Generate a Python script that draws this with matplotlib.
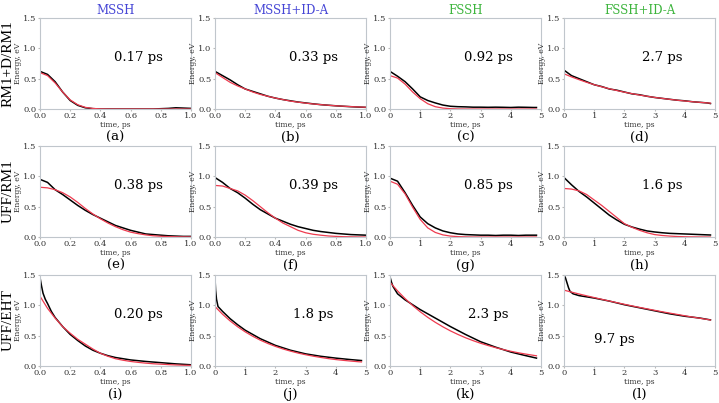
import matplotlib
matplotlib.use('Agg')
import matplotlib.pyplot as plt

# shared time grids (ps)
t1 = [0.0, 0.05, 0.1, 0.15, 0.2, 0.25, 0.3, 0.35, 0.4, 0.45, 0.5,
      0.55, 0.6, 0.65, 0.7, 0.75, 0.8, 0.85, 0.9, 0.95, 1.0]
t5 = [0.0, 0.25, 0.5, 0.75, 1.0, 1.25, 1.5, 1.75, 2.0, 2.25, 2.5,
      2.75, 3.0, 3.25, 3.5, 3.75, 4.0, 4.25, 4.5, 4.75, 4.85]

# row 1: RM1+D/RM1
a_md = [0.62, 0.57, 0.45, 0.28, 0.14, 0.06, 0.02, 0.006, 0.0, 0.0, 0.0,
        0.0, 0.0, 0.0, 0.0, 0.0, 0.005, 0.01, 0.02, 0.015, 0.01]
a_fit = [0.60, 0.55, 0.43, 0.28, 0.15, 0.07, 0.027, 0.009, 0.002, 0.0, 0.0,
         0.0, 0.0, 0.0, 0.0, 0.0, 0.0, 0.0, 0.0, 0.0, 0.0]
b_md = [0.62, 0.55, 0.48, 0.40, 0.33, 0.29, 0.25, 0.21, 0.18, 0.155, 0.135,
        0.115, 0.10, 0.085, 0.072, 0.062, 0.053, 0.045, 0.038, 0.032, 0.027]
b_fit = [0.60, 0.52, 0.44, 0.38, 0.33, 0.28, 0.24, 0.21, 0.18, 0.155, 0.13,
         0.113, 0.097, 0.083, 0.072, 0.062, 0.053, 0.046, 0.039, 0.034, 0.029]
c_md = [0.62, 0.54, 0.45, 0.33, 0.20, 0.14, 0.10, 0.065, 0.045, 0.038, 0.035,
        0.03, 0.03, 0.028, 0.03, 0.028, 0.025, 0.03, 0.028, 0.025, 0.025]
c_fit = [0.55, 0.51, 0.41, 0.28, 0.17, 0.087, 0.038, 0.015, 0.005, 0.001, 0.0,
         0.0, 0.0, 0.0, 0.0, 0.0, 0.0, 0.0, 0.0, 0.0, 0.0]
d_md = [0.64, 0.55, 0.50, 0.45, 0.40, 0.37, 0.33, 0.31, 0.28, 0.25, 0.235,
        0.21, 0.19, 0.175, 0.16, 0.145, 0.135, 0.12, 0.11, 0.10, 0.09]
d_fit = [0.58, 0.529, 0.483, 0.440, 0.401, 0.366, 0.334, 0.304, 0.277, 0.253, 0.230,
         0.210, 0.191, 0.175, 0.159, 0.145, 0.132, 0.120, 0.110, 0.100, 0.096]

# row 2: UFF/RM1
e_md = [0.95, 0.90, 0.78, 0.70, 0.61, 0.52, 0.44, 0.37, 0.31, 0.25, 0.19,
        0.15, 0.11, 0.08, 0.05, 0.04, 0.03, 0.02, 0.015, 0.01, 0.01]
e_fit = [0.82, 0.81, 0.78, 0.73, 0.66, 0.57, 0.47, 0.38, 0.30, 0.23, 0.17,
         0.12, 0.08, 0.055, 0.035, 0.02, 0.012, 0.007, 0.004, 0.002, 0.001]
f_md = [0.98, 0.90, 0.80, 0.73, 0.64, 0.54, 0.45, 0.38, 0.31, 0.26, 0.21,
        0.17, 0.14, 0.11, 0.09, 0.075, 0.06, 0.05, 0.04, 0.035, 0.03]
f_fit = [0.85, 0.84, 0.80, 0.76, 0.69, 0.60, 0.50, 0.40, 0.31, 0.23, 0.17,
         0.11, 0.07, 0.045, 0.03, 0.017, 0.01, 0.005, 0.003, 0.001, 0.0]
g_md = [0.97, 0.92, 0.73, 0.52, 0.33, 0.22, 0.15, 0.10, 0.07, 0.05, 0.04,
        0.035, 0.03, 0.03, 0.025, 0.03, 0.03, 0.025, 0.03, 0.03, 0.03]
g_fit = [0.92, 0.87, 0.71, 0.49, 0.29, 0.15, 0.075, 0.035, 0.015, 0.006, 0.002,
         0.0, 0.0, 0.0, 0.0, 0.0, 0.0, 0.0, 0.0, 0.0, 0.0]
h_md = [0.98, 0.86, 0.75, 0.66, 0.56, 0.46, 0.36, 0.28, 0.21, 0.165, 0.13,
        0.10, 0.083, 0.07, 0.06, 0.055, 0.05, 0.045, 0.04, 0.035, 0.033]
h_fit = [0.80, 0.79, 0.76, 0.70, 0.61, 0.52, 0.42, 0.32, 0.22, 0.16, 0.11,
         0.07, 0.04, 0.025, 0.015, 0.008, 0.004, 0.002, 0.001, 0.0, 0.0]

# row 3: UFF/EHT (fast initial drop, own time points for MD curves)
i_t = [0.0, 0.01, 0.02, 0.035, 0.05, 0.075, 0.1, 0.15, 0.2, 0.25, 0.3,
       0.35, 0.4, 0.45, 0.5, 0.6, 0.7, 0.8, 0.9, 1.0]
i_md = [1.46, 1.32, 1.20, 1.10, 1.03, 0.90, 0.80, 0.65, 0.52, 0.42, 0.33,
        0.26, 0.21, 0.17, 0.14, 0.10, 0.075, 0.055, 0.035, 0.02]
i_fit = [1.15, 0.95, 0.79, 0.65, 0.54, 0.44, 0.36, 0.28, 0.21, 0.16, 0.12,
         0.095, 0.075, 0.06, 0.047, 0.037, 0.03, 0.023, 0.017, 0.013, 0.01]
j_t = [0.0, 0.02, 0.05, 0.1, 0.25, 0.5, 0.75, 1.0, 1.5, 2.0, 2.5, 3.0,
       3.5, 4.0, 4.5, 4.85]
j_md = [1.45, 1.25, 1.10, 0.98, 0.90, 0.78, 0.68, 0.59, 0.45, 0.34, 0.26, 0.20,
        0.16, 0.13, 0.105, 0.09]
j_fit = [0.98, 0.853, 0.743, 0.647, 0.563, 0.490, 0.426, 0.371, 0.323, 0.281, 0.245,
         0.213, 0.186, 0.162, 0.141, 0.122, 0.106, 0.093, 0.081, 0.070, 0.067]
k_t = [0.0, 0.05, 0.1, 0.25, 0.5, 0.75, 1.0, 1.5, 2.0, 2.5, 3.0, 3.5,
       4.0, 4.5, 4.85]
k_md = [1.47, 1.38, 1.31, 1.19, 1.09, 1.01, 0.93, 0.79, 0.65, 0.52, 0.40, 0.31,
        0.23, 0.17, 0.13]
k_fit = [1.38, 1.238, 1.111, 0.997, 0.894, 0.802, 0.720, 0.646, 0.579, 0.520, 0.466,
         0.418, 0.375, 0.337, 0.302, 0.271, 0.243, 0.218, 0.196, 0.176, 0.168]
l_t = [0.0, 0.05, 0.1, 0.15, 0.2, 0.3, 0.5, 0.75, 1.0, 1.5, 2.0, 2.5, 3.0,
       3.5, 4.0, 4.5, 4.85]
l_md = [1.50, 1.45, 1.37, 1.29, 1.23, 1.19, 1.16, 1.14, 1.12, 1.07, 1.01, 0.96,
        0.91, 0.86, 0.82, 0.79, 0.76]
l_fit = [1.25, 1.218, 1.187, 1.157, 1.128, 1.099, 1.071, 1.044, 1.017, 0.991, 0.966,
         0.942, 0.918, 0.894, 0.872, 0.850, 0.828, 0.807, 0.787, 0.767, 0.758]

col_titles = ['MSSH', 'MSSH+ID-A', 'FSSH', 'FSSH+ID-A']
col_colors = ['#4646d6', '#4646d6', '#3cb43c', '#3cb43c']
row_titles = ['RM1+D/RM1', 'UFF/RM1', 'UFF/EHT']
times = ['0.17 ps', '0.33 ps', '0.92 ps', '2.7 ps',
         '0.38 ps', '0.39 ps', '0.85 ps', '1.6 ps',
         '0.20 ps', '1.8 ps', '2.3 ps', '9.7 ps']
letters = ['(a)', '(b)', '(c)', '(d)', '(e)', '(f)', '(g)', '(h)',
           '(i)', '(j)', '(k)', '(l)']

panels = [
    (t1, a_md, t1, a_fit, 1), (t1, b_md, t1, b_fit, 1),
    (t5, c_md, t5, c_fit, 5), (t5, d_md, t5, d_fit, 5),
    (t1, e_md, t1, e_fit, 1), (t1, f_md, t1, f_fit, 1),
    (t5, g_md, t5, g_fit, 5), (t5, h_md, t5, h_fit, 5),
    (i_t, i_md, t1, i_fit, 1), (j_t, j_md, t5, j_fit, 5),
    (k_t, k_md, t5, k_fit, 5), (l_t, l_md, t5, l_fit, 5),
]

W, H = 719, 403
lefts = [40, 215, 390, 564]
tops = [18, 146, 275]
aw, ah = 151, 91

plt.rcParams['font.family'] = 'DejaVu Serif'
fig = plt.figure(figsize=(W / 100, H / 100), dpi=100)

for n, (tm, md, tf, fit, tmax) in enumerate(panels):
    r, c = divmod(n, 4)
    ax = fig.add_axes([lefts[c] / W, 1 - (tops[r] + ah) / H, aw / W, ah / H])
    ax.plot(tm, md, color='black', lw=1.1)
    ax.plot(tf, fit, color='#ee3b4f', lw=0.9)
    ax.set_xlim(0, tmax)
    ax.set_ylim(0, 1.5)
    ax.set_yticks([0.0, 0.5, 1.0, 1.5])
    if tmax == 1:
        ax.set_xticks([0.0, 0.2, 0.4, 0.6, 0.8, 1.0])
    else:
        ax.set_xticks([0, 1, 2, 3, 4, 5])
    ax.tick_params(labelsize=6, length=1.5, pad=1, colors='#bbbbbb',
                   labelcolor='#333333')
    for s in ax.spines.values():
        s.set_color('#c0c6cc')
        s.set_linewidth(0.8)
    ax.set_xlabel('time, ps', fontsize=5.5, labelpad=0.5, color='#333333')
    ax.set_ylabel('Energy, eV', fontsize=5.5, labelpad=0.5, color='#333333')
    if n == 11:
        ax.text(0.33, 0.29, times[n], transform=ax.transAxes,
                ha='center', va='center', fontsize=9.5)
    else:
        ax.text(0.65, 0.57, times[n], transform=ax.transAxes,
                ha='center', va='center', fontsize=9.5)
    ax.text(0.5, -0.31, letters[n], transform=ax.transAxes,
            ha='center', va='center', fontsize=9.5)
    if r == 0:
        ax.set_title(col_titles[c], fontsize=8.5, color=col_colors[c], pad=3)
    if c == 0:
        fig.text(8 / W, 1 - (tops[r] + ah / 2) / H, row_titles[r],
                 rotation=90, ha='center', va='center',
                 fontsize=11, family='Liberation Serif')

fig.savefig('out.png', dpi=100)
